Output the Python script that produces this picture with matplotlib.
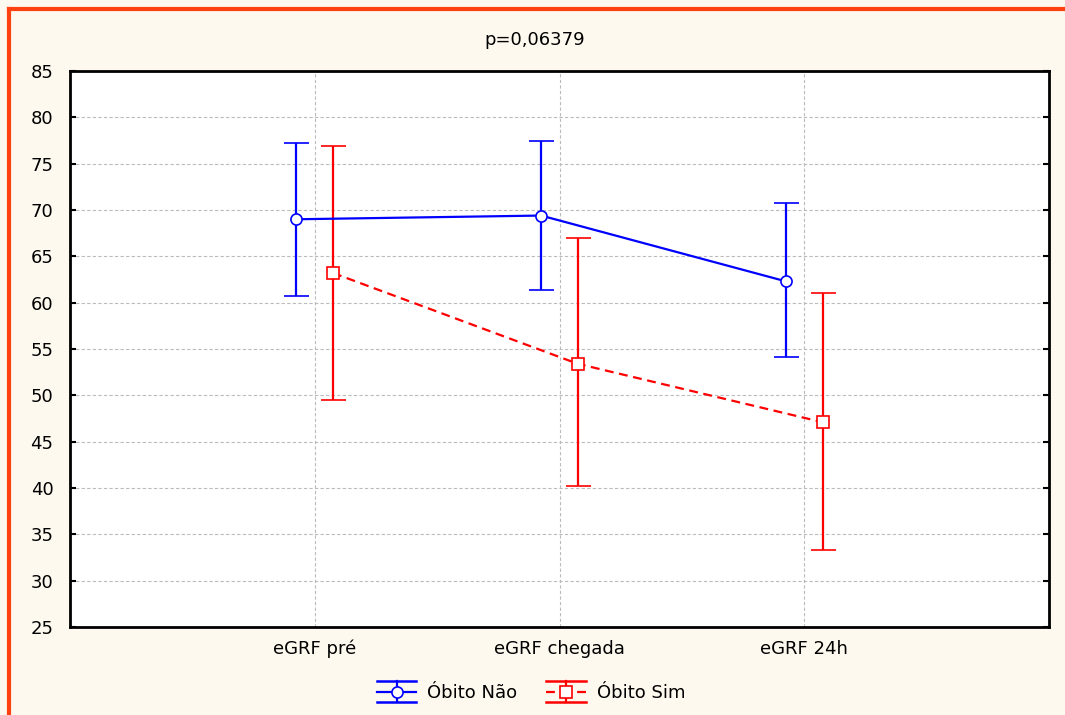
import matplotlib
matplotlib.use("Agg")
import matplotlib.pyplot as plt
from matplotlib.lines import Line2D
from matplotlib.legend_handler import HandlerBase
import numpy as np

plt.rcParams['font.family'] = ['DejaVu Sans']

categories = ["eGRF pré", "eGRF chegada", "eGRF 24h"]
nao_mean = [69.0, 69.4, 62.3]
nao_upper = [77.2, 77.5, 70.8]
nao_lower = [60.7, 61.4, 54.1]
sim_mean = [63.2, 53.4, 47.1]
sim_upper = [76.9, 67.0, 61.0]
sim_lower = [49.5, 40.2, 33.3]
title_text = "p=0,06379"

bg = "#FEF9EE"
fig = plt.figure(figsize=(10.65, 7.15), dpi=100, facecolor=bg)
ax = fig.add_axes([70/1065, 1 - 627/715, 979/1065, 556/715])
ax.set_facecolor("white")

x = np.arange(1, len(categories) + 1)
off = 0.075


def draw(xpos, mean, lo, hi, color, marker, ls, label):
    mean = np.array(mean); lo = np.array(lo); hi = np.array(hi)
    yerr = [mean - lo, hi - mean]
    return ax.errorbar(xpos, mean, yerr=yerr, color=color, ecolor=color,
                       linestyle=ls, linewidth=1.6, elinewidth=1.6,
                       capsize=9, capthick=1.6, marker=marker, markersize=8,
                       markerfacecolor="white", markeredgecolor=color,
                       markeredgewidth=1.2, label=label, zorder=3)


h1 = draw(x - off, nao_mean, nao_lower, nao_upper, "#0000FF", "o", "-", "Óbito Não")
h2 = draw(x + off, sim_mean, sim_lower, sim_upper, "#FF0000", "s", (0, (4, 2.5)), "Óbito Sim")


class ErrorKeyHandler(HandlerBase):
    """Legend key: full-width caps, centre line, vertical bar and marker."""
    def __init__(self, color, marker, ls):
        super().__init__()
        self.color, self.marker, self.ls = color, marker, ls

    def create_artists(self, legend, orig_handle, xdescent, ydescent,
                       width, height, fontsize, trans):
        c = self.color
        cy = height / 2 - ydescent
        half = height * 0.85
        arts = []
        for yy in (cy - half, cy + half):
            arts.append(Line2D([-xdescent, width - xdescent], [yy, yy],
                               color=c, lw=1.8, transform=trans))
        arts.append(Line2D([-xdescent, width - xdescent], [cy, cy],
                           color=c, lw=1.6, linestyle=self.ls, transform=trans))
        mx = width / 2 - xdescent
        arts.append(Line2D([mx, mx], [cy - half, cy + half], color=c, lw=1.6,
                           transform=trans))
        arts.append(Line2D([mx], [cy], marker=self.marker, markersize=8,
                           markerfacecolor="white", markeredgecolor=c,
                           markeredgewidth=1.2, linestyle="none", transform=trans))
        return arts


ax.set_xlim(0, 4)
ax.set_ylim(25, 85)
ax.set_yticks(np.arange(25, 86, 5))
ax.set_xticks(x)
ax.set_xticklabels(categories)
ax.tick_params(axis='both', direction='in', length=4, width=1.5, labelsize=13,
               right=True, top=False, pad=12, colors="black")
ax.tick_params(axis='x', length=0, pad=9)
ax.grid(True, color="#BBBBBB", linestyle=(0, (3, 2)), linewidth=0.8, zorder=0)
ax.set_axisbelow(True)
for s in ax.spines.values():
    s.set_linewidth(2)
    s.set_color("black")

fig.text(535/1065, 1 - 40/715, title_text, ha="center", va="center", fontsize=13)

fig.legend(handles=[h1, h2], loc="center", bbox_to_anchor=(531/1065, 1 - 693/715),
           ncol=2, frameon=False, fontsize=13, handlelength=2.2,
           columnspacing=1.6, handletextpad=0.6,
           handler_map={h1: ErrorKeyHandler("#0000FF", "o", "-"),
                        h2: ErrorKeyHandler("#FF0000", "s", (0, (4, 3)))})

# Orange frame along the top and left edges
fig.add_artist(Line2D([9/1065, 9/1065], [0, 1 - 9/715], transform=fig.transFigure,
                      color="#FF4010", linewidth=3))
fig.add_artist(Line2D([9/1065, 1], [1 - 9/715, 1 - 9/715], transform=fig.transFigure,
                      color="#FF4010", linewidth=3))

fig.savefig("out.png", dpi=100, facecolor=bg)
